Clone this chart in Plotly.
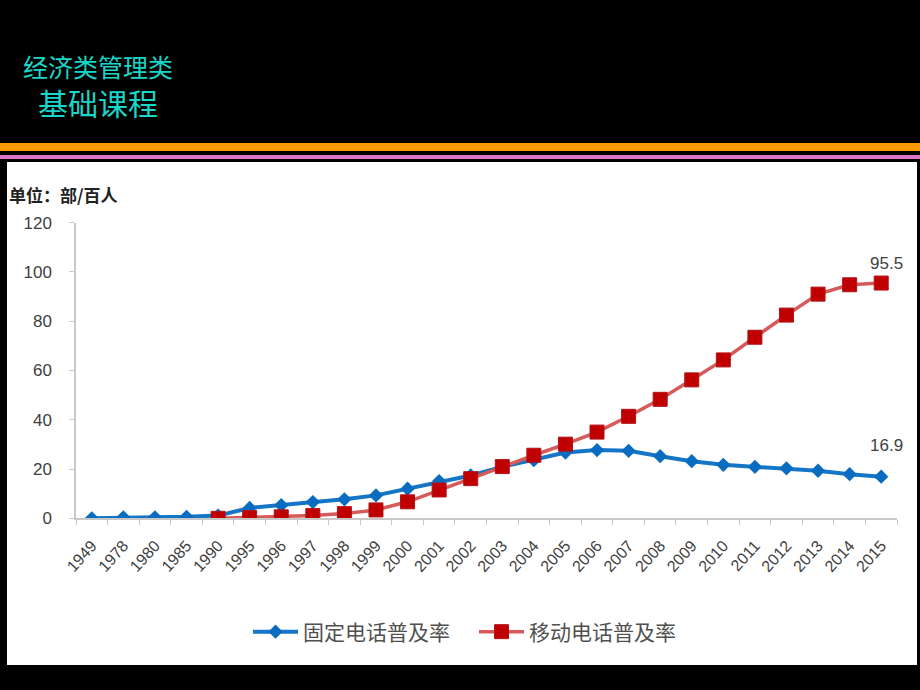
import plotly.graph_objects as go

W, H = 920, 690

years = ["1949", "1978", "1980", "1985", "1990", "1995", "1996", "1997", "1998",
         "1999", "2000", "2001", "2002", "2003", "2004", "2005", "2006", "2007",
         "2008", "2009", "2010", "2011", "2012", "2013", "2014", "2015"]

fixed_rate = [0.0, 0.4, 0.4, 0.6, 1.1, 4.2, 5.3, 6.6, 7.7, 9.3, 12.0, 15.1, 17.4,
              20.9, 23.6, 26.7, 27.7, 27.4, 25.2, 23.2, 21.7, 20.9, 20.3, 19.3,
              17.9, 16.9]

mobile_rate = [None, None, None, None, 0.0, 0.3, 0.6, 1.1, 1.9, 3.4, 6.7, 11.5,
               16.1, 21.0, 25.6, 30.1, 35.0, 41.4, 48.3, 56.2, 64.3, 73.5, 82.5,
               91.0, 94.8, 95.5]

y_ticks = [0, 20, 40, 60, 80, 100, 120]

CJK = "Noto Sans CJK SC"


def px_x(v):
    return v / W


def px_y(v):
    return 1 - v / H


fig = go.Figure()

fig.add_trace(go.Scatter(
    x=years, y=fixed_rate, name="固定电话普及率",
    mode="lines+markers",
    line=dict(color="#1575C6", width=4),
    marker=dict(symbol="diamond", size=11, color="#0A6CC0"),
))
fig.add_trace(go.Scatter(
    x=years, y=mobile_rate, name="移动电话普及率",
    mode="lines+markers",
    line=dict(color="#D65A5A", width=3.5),
    marker=dict(symbol="square", size=14, color="#C00000",
                line=dict(color="#B0141B", width=1)),
))

# end-of-line value labels (category index, a numeric-looking string would be read as an index)
last = len(years) - 1
fig.add_annotation(x=last, y=mobile_rate[-1], text=str(mobile_rate[-1]),
                   showarrow=False, yshift=20, xshift=5,
                   font=dict(size=17, color="#404040", family="Liberation Sans"))
fig.add_annotation(x=last, y=fixed_rate[-1], text=str(fixed_rate[-1]),
                   showarrow=False, yshift=31, xshift=5,
                   font=dict(size=17, color="#404040", family="Liberation Sans"))

# header texts
fig.add_annotation(xref="paper", yref="paper", x=px_x(21), y=px_y(66),
                   xanchor="left", yanchor="middle", showarrow=False,
                   text="经济类管理类", font=dict(size=25, color="#19D6C8", family=CJK))
fig.add_annotation(xref="paper", yref="paper", x=px_x(36), y=px_y(102),
                   xanchor="left", yanchor="middle", showarrow=False,
                   text="基础课程", font=dict(size=30, color="#19D6C8", family=CJK))

# unit label
fig.add_annotation(xref="paper", yref="paper", x=px_x(7), y=px_y(195),
                   xanchor="left", yanchor="middle", showarrow=False,
                   text="<b>单位：部/百人</b>", font=dict(size=17, color="#222222", family=CJK))

shapes = [
    dict(type="rect", xref="paper", yref="paper", x0=px_x(7), x1=px_x(917),
         y0=px_y(665), y1=px_y(162), fillcolor="white", line_width=0, layer="below"),
    dict(type="rect", xref="paper", yref="paper", x0=0, x1=1,
         y0=px_y(151), y1=px_y(143), fillcolor="#FF9A00", line_width=0, layer="below"),
    dict(type="rect", xref="paper", yref="paper", x0=0, x1=1,
         y0=px_y(159), y1=px_y(155), fillcolor="#D875C8", line_width=0, layer="below"),
]

fig.update_layout(
    width=W, height=H,
    paper_bgcolor="black",
    plot_bgcolor="white",
    margin=dict(l=0, r=0, t=0, b=0, pad=0, autoexpand=False),
    shapes=shapes,
    showlegend=True,
    legend=dict(orientation="h", x=px_x(248), xanchor="left", y=px_y(632), yanchor="middle",
                font=dict(size=21, color="#505050", family=CJK),
                bgcolor="rgba(0,0,0,0)", itemwidth=45, tracegroupgap=0,
                entrywidth=166, entrywidthmode="pixels"),
    xaxis=dict(
        domain=[px_x(76), px_x(897)], automargin=False,
        type="category", range=[-0.5, len(years) - 0.5],
        showline=True, linecolor="#C8C8C8", linewidth=1.5,
        ticks="outside", tickson="boundaries", ticklen=5, tickcolor="#C8C8C8",
        tickangle=-48, ticklabelstandoff=10, showgrid=False, zeroline=False,
        tickfont=dict(size=16, color="#404040", family="Liberation Sans"),
    ),
    yaxis=dict(
        domain=[px_y(518.3), px_y(222.7)], automargin=False,
        range=[0, 120], tickvals=y_ticks,
        showline=True, linecolor="#C8C8C8", linewidth=1.5,
        ticks="outside", ticklen=5, tickcolor="#C8C8C8", ticklabelstandoff=14,
        showgrid=False, zeroline=False,
        tickfont=dict(size=17, color="#404040", family="Liberation Sans"),
    ),
)

fig.write_html("out.html", config={"displayModeBar": False},
               post_script="document.body.style.margin='0px';")
